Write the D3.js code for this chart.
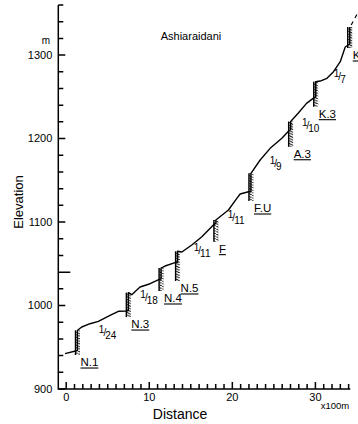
<!DOCTYPE html>
<meta charset="utf-8">
<style>
  body { margin: 0; background: #fff; }
  svg { display: block; }
  text { font-family: "Liberation Sans", Arial, sans-serif; fill: #000; }
</style>
<svg width="358" height="424"></svg>
<script src="https://cdn.jsdelivr.net/npm/d3@7"></script>
<script>
  // stream bed profile, distance in 100 m units, elevation in m
  var profileDist = [-0.14, 1.36, 1.36, 1.87, 2.87, 3.87, 5.28, 6.28, 7.29, 7.48, 7.48, 7.89, 8.89, 10.1, 11.2,
    11.42, 11.42, 11.9, 13.1, 13.41, 13.41, 13.92, 15.12, 16.33, 17.72, 18.02, 18.02, 19.53, 20.54, 20.94, 21.94,
    22.24, 22.24, 23.35, 24.55, 25.96, 26.78, 27.02, 27.02, 27.92, 28.93, 29.73, 30.04, 30.04, 30.58, 31.39,
    32.18, 32.99, 33.59, 34.13, 34.13];
  var profileElev = [942.3, 946.1, 970.3, 974.3, 978.2, 981.1, 988.3, 993.1, 993.4, 994.0, 1015.4, 1013.0, 1022.2, 1026.1, 1031.4,
    1031.8, 1044.9, 1047.3, 1051.3, 1052.1, 1065.0, 1064.1, 1072.5, 1082.4, 1096.5, 1098.3, 1102.4, 1114.4, 1128.4, 1133.6, 1136.3,
    1136.6, 1158.4, 1174.3, 1188.3, 1200.3, 1209.1, 1210.8, 1220.4, 1230.3, 1242.2, 1248.2, 1249.8, 1268.1, 1268.9, 1272.2,
    1280.1, 1292.1, 1309.7, 1313.3, 1333.6];
  // profile continues beyond the chart (dashed)
  var extDist = [34.31, 35.15];
  var extElev = [1336, 1351.6];

  // check dams
  var damNames = ["N.1", "N.3", "N.4", "N.5", "F", "F.U", "A.3", "K.3", "K.4"];
  var damDist = [1.36, 7.48, 11.42, 13.41, 18.02, 22.24, 27.02, 30.04, 34.13];
  var damTop = [970.3, 1015.4, 1044.9, 1065.0, 1102.4, 1158.4, 1220.4, 1268.1, 1333.6];
  var damFoot = [940.7, 986.2, 1017.4, 1029.4, 1076.5, 1125.2, 1190.2, 1238.2, 1308.5];

  // bed gradients between dams (1/n)
  var slopeDen = ["24", "18", "11", "11", "9", "10", "7"];
  var slopeDist = [4.98, 9.98, 16.36, 20.46, 25.22, 29.43, 32.93];
  var slopeElev = [965.3, 1008.4, 1064.1, 1104.2, 1168.9, 1214.4, 1272];

  var xMajor = [0, 10, 20, 30];
  var xMinor = d3.range(0, 35, 1);
  var yMajor = [900, 1000, 1100, 1200, 1300];
  var yMinor = d3.range(900, 1361, 20);
  var yMark = [1040];

  var svg = d3.select("svg");
  svg.append("rect").attr("width", 358).attr("height", 424).attr("fill", "#fff");

  var x = d3.scaleLinear().domain([-0.95, 34.2]).range([58.3, 350.3]);
  var y = d3.scaleLinear().domain([900, 1360]).range([389, 5]);
  var x0 = x.range()[0], y0 = y.range()[0];

  // hatch for the dam bodies
  var pat = svg.append("defs").append("pattern")
    .attr("id", "hatch").attr("patternUnits", "userSpaceOnUse")
    .attr("width", 6).attr("height", 2.6);
  pat.append("path").attr("d", "M-1,-0.5 L7,3.1").attr("stroke", "#000").attr("stroke-width", 0.9);

  // axis lines
  svg.append("path").attr("fill", "none").attr("stroke", "#000").attr("stroke-width", 1.5)
    .attr("d", "M" + x0 + "," + y.range()[1] + "V" + y0 + "H" + x.range()[1]);

  // x ticks point up into the plot
  var xTickPath = xMinor.map(d => "M" + x(d) + "," + y0 + "v" + (xMajor.includes(d) ? -7 : -5)).join("");
  svg.append("path").attr("class", "xticks").attr("d", xTickPath)
    .attr("fill", "none").attr("stroke", "#000").attr("stroke-width", 1.5);
  svg.selectAll(".xl").data(xMajor).join("text").attr("class", "xl")
    .attr("x", d => x(d)).attr("y", y0 + 12).attr("text-anchor", "middle")
    .attr("font-size", 11).text(d3.format("d"));

  // y ticks point right into the plot
  var yTickPath = yMinor.map(d => "M" + x0 + "," + y(d) + "h" + (yMajor.includes(d) ? 7 : 5)).join("")
    + yMark.map(d => "M" + (x0 + 3) + "," + y(d) + "h" + 9).join("");
  svg.append("path").attr("class", "yticks").attr("d", yTickPath)
    .attr("fill", "none").attr("stroke", "#000").attr("stroke-width", 1.5);
  svg.selectAll(".yl").data(yMajor).join("text").attr("class", "yl")
    .attr("x", x0 - 6).attr("y", d => y(d)).attr("dy", "0.35em").attr("text-anchor", "end")
    .attr("font-size", 11).text(d3.format("d"));

  svg.append("text").attr("x", 46).attr("y", 44).attr("text-anchor", "middle")
    .attr("font-size", 10).text("m");
  svg.append("text").attr("x", 335).attr("y", 409).attr("text-anchor", "middle")
    .attr("font-size", 9.5).text("x100m");
  svg.append("text").attr("x", 180).attr("y", 419).attr("text-anchor", "middle")
    .attr("font-size", 14).text("Distance");
  svg.append("text").attr("transform", "translate(23,202) rotate(-90)").attr("text-anchor", "middle")
    .attr("font-size", 13).text("Elevation");
  svg.append("text").attr("x", 191).attr("y", 40).attr("text-anchor", "middle")
    .attr("font-size", 11).text("Ashiaraidani");

  // profile
  var line = d3.line().x(d => x(d[0])).y(d => y(d[1]));
  svg.append("path").datum(d3.zip(profileDist, profileElev))
    .attr("d", line).attr("fill", "none").attr("stroke", "#000")
    .attr("stroke-width", 1.4).attr("stroke-linejoin", "round");
  svg.append("path").datum(d3.zip(extDist, extElev))
    .attr("d", line).attr("fill", "none").attr("stroke", "#000")
    .attr("stroke-width", 1.2).attr("stroke-dasharray", "4,4");

  // dams
  var dams = svg.append("g").selectAll("g").data(damNames).join("g");
  dams.append("rect")
    .attr("x", (d, i) => x(damDist[i]) - 2).attr("width", 4.5)
    .attr("y", (d, i) => y(damTop[i])).attr("height", (d, i) => y(damFoot[i]) - y(damTop[i]))
    .attr("fill", "url(#hatch)");
  dams.append("line")
    .attr("x1", (d, i) => x(damDist[i]) - 2).attr("x2", (d, i) => x(damDist[i]) - 2)
    .attr("y1", (d, i) => y(damTop[i])).attr("y2", (d, i) => y(damFoot[i]))
    .attr("stroke", "#000").attr("stroke-width", 1.4);
  dams.append("text")
    .attr("x", (d, i) => x(damDist[i]) + 3).attr("y", (d, i) => y(damFoot[i]) + 11)
    .attr("font-size", 11.5).text(d => d)
    .each(function (d, i) {
      var w = this.getComputedTextLength();
      d3.select(this.parentNode).append("line")
        .attr("x1", x(damDist[i]) + 3).attr("x2", x(damDist[i]) + 3 + w)
        .attr("y1", y(damFoot[i]) + 13).attr("y2", y(damFoot[i]) + 13)
        .attr("stroke", "#000").attr("stroke-width", 1.1);
    });

  // gradient labels
  var sl = svg.append("g").selectAll("text").data(slopeDen).join("text")
    .attr("x", (d, i) => x(slopeDist[i])).attr("y", (d, i) => y(slopeElev[i]) + 2)
    .attr("text-anchor", "middle").attr("font-size", 10);
  sl.append("tspan").attr("dy", -3).text("1");
  sl.append("tspan").attr("dy", 3).attr("dx", -1).text("/");
  sl.append("tspan").attr("dy", 3).attr("dx", -1).text(d => d);
</script>
